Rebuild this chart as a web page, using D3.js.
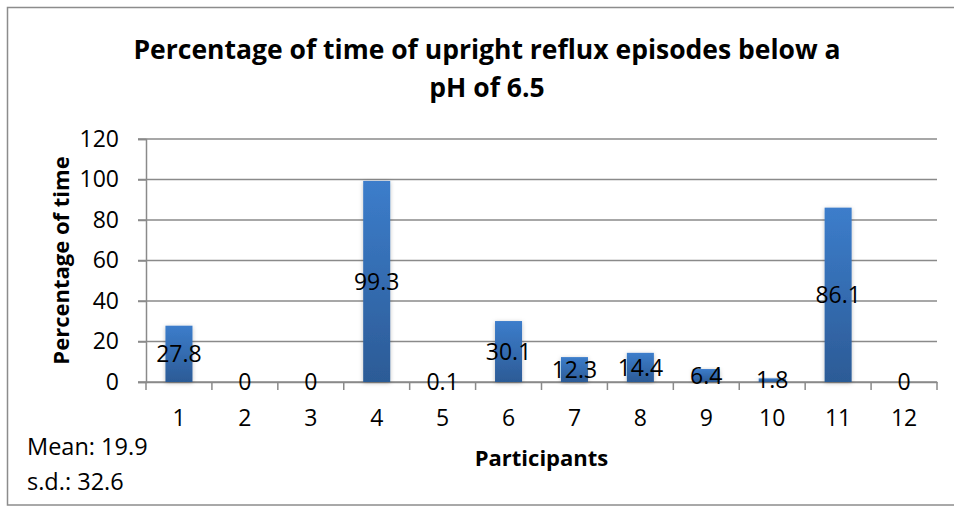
<!DOCTYPE html>
<html>
<head>
<meta charset="utf-8">
<script src="https://cdn.jsdelivr.net/npm/d3@7"></script>
<style>
  body { margin: 0; background: #fff; }
  svg { display: block; font-family: "Open Sans", sans-serif; }
</style>
</head>
<body>
<div id="chart"></div>
<script>
// values
var participants = ["1", "2", "3", "4", "5", "6", "7", "8", "9", "10", "11", "12"];
var values = [27.8, 0, 0, 99.3, 0.1, 30.1, 12.3, 14.4, 6.4, 1.8, 86.1, 0];
var yTicks = [0, 20, 40, 60, 80, 100, 120];
var titleLines = ["Percentage of time of upright reflux episodes below a", "pH of 6.5"];
var stats = ["Mean: 19.9", "s.d.: 32.6"];

var width = 954, height = 506;
var plot = { left: 146, right: 937, top: 139, bottom: 382 };
var fontFamily = '"Open Sans", sans-serif';

var svg = d3.select("#chart").append("svg")
    .attr("width", width)
    .attr("height", height);

// outer chart border (right side runs off the picture)
svg.append("rect")
    .attr("x", 7.5).attr("y", 7.5)
    .attr("width", 960).attr("height", 497.5)
    .attr("fill", "#fff")
    .attr("stroke", "#8c8c8c")
    .attr("stroke-width", 1.5);

var defs = svg.append("defs");
var grad = defs.append("linearGradient")
    .attr("id", "barGrad")
    .attr("x1", 0).attr("y1", 0).attr("x2", 0).attr("y2", 1);
grad.append("stop").attr("offset", "0%").attr("stop-color", "#3c7dcb");
grad.append("stop").attr("offset", "100%").attr("stop-color", "#2c5b96");

var shadow = defs.append("filter").attr("id", "shadow")
    .attr("x", "-30%").attr("y", "-10%").attr("width", "160%").attr("height", "120%");
shadow.append("feDropShadow")
    .attr("dx", 0).attr("dy", 1)
    .attr("stdDeviation", 2)
    .attr("flood-color", "#000")
    .attr("flood-opacity", 0.25);

var x = d3.scaleBand()
    .domain(participants)
    .range([plot.left, plot.right])
    .paddingInner(0.59)
    .paddingOuter(0.295);

var y = d3.scaleLinear()
    .domain([0, 120])
    .range([plot.bottom, plot.top]);

var step = x.step();

// gridlines
svg.append("g")
    .selectAll("line")
    .data(yTicks)
    .enter().append("line")
    .attr("x1", plot.left - 8)
    .attr("x2", plot.right)
    .attr("y1", function(d) { return y(d); })
    .attr("y2", function(d) { return y(d); })
    .attr("stroke", "#8a8a8a")
    .attr("stroke-width", 1.5);

// y axis
var yAxis = svg.append("g")
    .attr("transform", "translate(" + plot.left + ",0)")
    .call(d3.axisLeft(y).tickValues(yTicks).tickSize(8).tickPadding(19));
yAxis.select(".domain").attr("stroke", "#8a8a8a").attr("stroke-width", 1.5);
yAxis.selectAll(".tick line").attr("stroke", "#8a8a8a").attr("stroke-width", 1.5);
yAxis.selectAll("text")
    .attr("fill", "#000")
    .style("font-size", "23px")
    .style("font-family", fontFamily);

// x axis: ticks between categories
var xAxis = svg.append("g")
    .attr("transform", "translate(0," + plot.bottom + ")")
    .call(d3.axisBottom(x).tickSize(0).tickPadding(28));
xAxis.select(".domain").attr("stroke", "#8a8a8a").attr("stroke-width", 1.5);
xAxis.selectAll("text")
    .attr("fill", "#000")
    .style("font-size", "23px")
    .style("font-family", fontFamily);
xAxis.selectAll(".sep")
    .data(participants.concat(["end"]))
    .enter().append("line")
    .attr("class", "sep")
    .attr("x1", function(d, i) { return plot.left + i * step; })
    .attr("x2", function(d, i) { return plot.left + i * step; })
    .attr("y1", 0).attr("y2", 8)
    .attr("stroke", "#8a8a8a")
    .attr("stroke-width", 1.5);

// bars
svg.append("g")
    .selectAll("rect")
    .data(values)
    .enter().append("rect")
    .attr("x", function(d, i) { return x(participants[i]); })
    .attr("y", function(d) { return y(d); })
    .attr("width", x.bandwidth())
    .attr("height", function(d) { return y(0) - y(d); })
    .attr("fill", "url(#barGrad)")
    .attr("filter", "url(#shadow)");

// data labels, centred in the bar
svg.append("g")
    .selectAll("text")
    .data(values)
    .enter().append("text")
    .attr("x", function(d, i) { return x(participants[i]) + x.bandwidth() / 2; })
    .attr("y", function(d) { return (y(d) + y(0)) / 2; })
    .attr("dy", "0.36em")
    .attr("text-anchor", "middle")
    .style("font-size", "23px")
    .text(function(d) { return d; });

// title
svg.append("g")
    .selectAll("text")
    .data(titleLines)
    .enter().append("text")
    .attr("x", 487)
    .attr("y", function(d, i) { return 59 + i * 38; })
    .attr("text-anchor", "middle")
    .style("font-size", "26.5px")
    .style("font-weight", "bold")
    .text(function(d) { return d; });

// axis titles
svg.append("text")
    .attr("transform", "translate(69," + ((plot.top + plot.bottom) / 2) + ") rotate(-90)")
    .attr("text-anchor", "middle")
    .style("font-size", "22px")
    .style("font-weight", "bold")
    .text("Percentage of time");

svg.append("text")
    .attr("x", (plot.left + plot.right) / 2)
    .attr("y", 466)
    .attr("text-anchor", "middle")
    .style("font-size", "22px")
    .style("font-weight", "bold")
    .text("Participants");

// mean / sd note
svg.append("g")
    .selectAll("text")
    .data(stats)
    .enter().append("text")
    .attr("x", 27)
    .attr("y", function(d, i) { return 455 + i * 35; })
    .style("font-size", "23.5px")
    .text(function(d) { return d; });
</script>
</body>
</html>
